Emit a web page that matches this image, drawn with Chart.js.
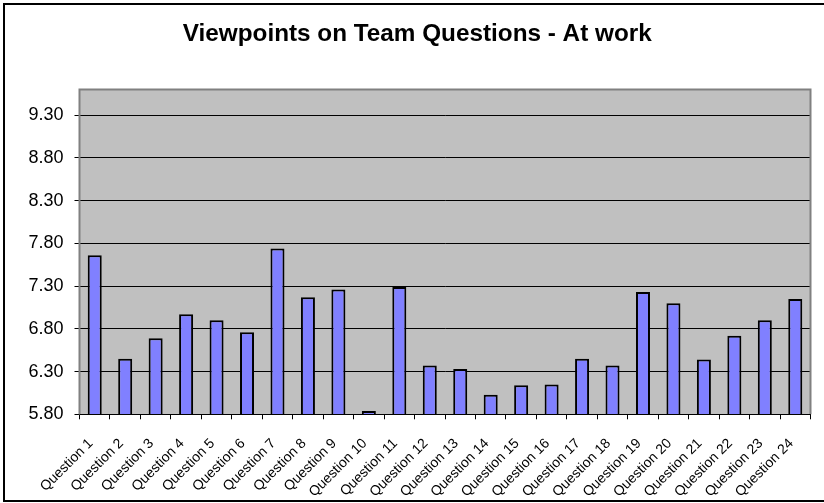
<!DOCTYPE html>
<html>
<head>
<meta charset="utf-8">
<script src="https://cdn.jsdelivr.net/npm/chart.js@4.4.1/dist/chart.umd.min.js"></script>
<style>
  html, body { margin: 0; padding: 0; background: #fff; overflow: hidden; }
  #wrap { position: relative; width: 824px; height: 503px; }
</style>
</head>
<body>
<div id="wrap"><canvas id="c" width="824" height="503"></canvas></div>
<script>
const chartTitle = "Viewpoints on Team Questions - At work";
const categories = ["Question 1","Question 2","Question 3","Question 4","Question 5","Question 6",
  "Question 7","Question 8","Question 9","Question 10","Question 11","Question 12",
  "Question 13","Question 14","Question 15","Question 16","Question 17","Question 18",
  "Question 19","Question 20","Question 21","Question 22","Question 23","Question 24"];
const scores = [7.66, 6.45, 6.69, 6.97, 6.90, 6.76, 7.74, 7.17, 7.26, 5.84, 7.29, 6.37,
  6.33, 6.03, 6.14, 6.15, 6.45, 6.37, 7.23, 7.10, 6.44, 6.72, 6.90, 7.15];
const yTickValues = [5.8, 6.3, 6.8, 7.3, 7.8, 8.3, 8.8, 9.3];
const yMin = 5.8;
const yMax = 9.6;

const framePlugin = {
  id: 'frame',
  beforeDraw(chart) {
    const ctx = chart.ctx, a = chart.chartArea;
    ctx.save();
    ctx.fillStyle = '#ffffff';
    ctx.fillRect(0, 0, chart.width, chart.height);
    ctx.fillStyle = '#C0C0C0';
    ctx.fillRect(a.left, a.top, a.right - a.left, a.bottom - a.top);
    ctx.strokeStyle = '#000';
    ctx.lineWidth = 2;
    ctx.strokeRect(4, 4, chart.width + 20, chart.height - 6);
    ctx.restore();
  },
  afterDatasetsDraw(chart) {
    const ctx = chart.ctx, a = chart.chartArea;
    ctx.save();
    ctx.strokeStyle = '#808080';
    ctx.lineWidth = 2;
    ctx.beginPath();
    ctx.moveTo(a.left, a.bottom);
    ctx.lineTo(a.left, a.top);
    ctx.lineTo(a.right, a.top);
    ctx.lineTo(a.right, a.bottom);
    ctx.stroke();
    ctx.strokeStyle = '#000';
    ctx.lineWidth = 1;
    ctx.beginPath();
    ctx.moveTo(a.left, Math.round(a.bottom) + 0.5);
    ctx.lineTo(a.right, Math.round(a.bottom) + 0.5);
    ctx.stroke();
    ctx.restore();
  }
};

new Chart(document.getElementById('c'), {
  type: 'bar',
  data: {
    labels: categories,
    datasets: [{
      data: scores,
      backgroundColor: '#8080FF',
      borderColor: '#000000',
      borderWidth: 2,
      borderSkipped: false,
      barPercentage: 0.46,
      categoryPercentage: 1.0
    }]
  },
  options: {
    responsive: false,
    animation: false,
    devicePixelRatio: 1,
    layout: { padding: { left: 24, right: 13.5, top: 0, bottom: 0 } },
    plugins: {
      legend: { display: false },
      tooltip: { enabled: false },
      title: {
        display: true,
        text: chartTitle,
        color: '#000',
        font: { family: "'Liberation Sans', Arial, sans-serif", size: 24.3, weight: 'bold', lineHeight: 1.2 },
        padding: { top: 19.3, bottom: 41.1 }
      }
    },
    scales: {
      x: {
        afterFit(scale) { scale.height = 88.7; },
        grid: { offset: true, drawOnChartArea: false, drawTicks: true, tickLength: 5, color: '#000', lineWidth: 1 },
        border: { display: true, color: '#000', width: 1 },
        ticks: {
          autoSkip: false, minRotation: 45, maxRotation: 45, padding: 16, labelOffset: -4,
          color: '#000',
          font: { family: "'Liberation Sans', Arial, sans-serif", size: 14 }
        }
      },
      y: {
        min: yMin,
        max: yMax,
        afterFit(scale) { scale.width = 55.5; },
        afterBuildTicks(scale) { scale.ticks = yTickValues.map(v => ({ value: v })); },
        grid: { drawOnChartArea: true, drawTicks: true, tickLength: 5, color: '#000', lineWidth: 1 },
        border: { display: true, color: '#808080', width: 1 },
        ticks: {
          padding: 11,
          color: '#000',
          font: { family: "'Liberation Sans', Arial, sans-serif", size: 18 },
          callback: (v) => Number(v).toFixed(2)
        }
      }
    }
  },
  plugins: [framePlugin]
});
</script>
</body>
</html>
